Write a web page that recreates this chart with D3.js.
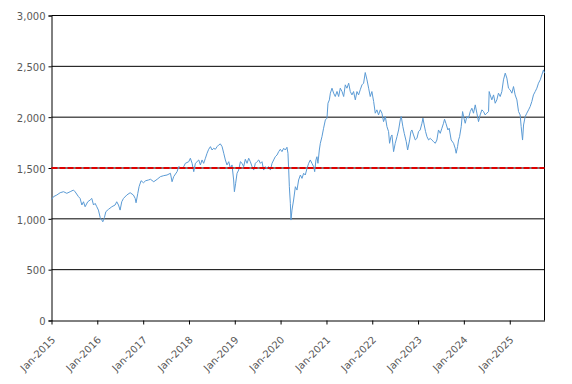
<!DOCTYPE html>
<html>
<head>
<meta charset="utf-8">
<script src="https://cdn.jsdelivr.net/npm/d3@7"></script>
<style>
  html, body { margin: 0; padding: 0; background: #fff; }
  svg { display: block; }
  text { font-family: "DejaVu Sans", Verdana, sans-serif; }
</style>
</head>
<body>
<svg id="chart" width="572" height="384"></svg>
<script>
// ---- data ----
const dates = [
"2015-01-02","2015-01-17","2015-02-12","2015-03-11","2015-04-07","2015-05-03","2015-05-30","2015-06-25","2015-07-09","2015-08-04",
"2015-08-17","2015-08-31","2015-09-13","2015-09-26","2015-10-17","2015-11-05","2015-11-18","2015-12-02","2015-12-15","2015-12-28",
"2016-01-10","2016-01-24","2016-02-06","2016-02-14","2016-02-27","2016-03-09","2016-03-30","2016-04-26","2016-05-22","2016-06-04",
"2016-06-18","2016-07-01","2016-07-14","2016-07-28","2016-08-23","2016-09-19","2016-10-15","2016-10-29","2016-11-05","2016-11-19",
"2016-11-29","2016-12-15","2017-01-03","2017-01-21","2017-02-12","2017-02-28","2017-03-26","2017-04-22","2017-05-18","2017-06-14",
"2017-07-10","2017-08-06","2017-08-19","2017-09-01","2017-09-28","2017-10-11","2017-11-07","2017-11-20","2017-12-03","2017-12-30",
"2018-01-12","2018-01-26","2018-02-08","2018-02-21","2018-03-06","2018-03-20","2018-04-02","2018-04-15","2018-04-28","2018-05-12",
"2018-05-25","2018-06-07","2018-06-21","2018-07-04","2018-07-17","2018-07-30","2018-08-13","2018-08-26","2018-09-08","2018-09-22",
"2018-10-05","2018-10-18","2018-10-31","2018-11-14","2018-11-27","2018-12-10","2018-12-23","2018-12-29","2019-01-08","2019-01-19",
"2019-02-01","2019-02-15","2019-02-28","2019-03-13","2019-03-26","2019-04-09","2019-04-22","2019-05-05","2019-05-19","2019-06-01",
"2019-06-14","2019-06-27","2019-07-11","2019-07-24","2019-08-06","2019-08-19","2019-09-02","2019-09-15","2019-09-28","2019-10-12",
"2019-10-25","2019-11-07","2019-11-20","2019-12-04","2019-12-17","2019-12-30","2020-01-12","2020-01-26","2020-02-08","2020-02-21",
"2020-02-29","2020-03-06","2020-03-11","2020-03-19","2020-03-24","2020-04-01","2020-04-14","2020-04-28","2020-05-11","2020-05-24",
"2020-06-07","2020-06-20","2020-07-03","2020-07-16","2020-07-30","2020-08-12","2020-08-25","2020-09-07","2020-09-21","2020-09-29",
"2020-10-09","2020-10-17","2020-10-25","2020-11-05","2020-11-13","2020-11-26","2020-12-09","2020-12-23","2021-01-05","2021-01-13",
"2021-01-24","2021-02-01","2021-02-14","2021-02-27","2021-03-12","2021-03-26","2021-04-08","2021-04-21","2021-05-05","2021-05-18",
"2021-05-31","2021-06-13","2021-06-27","2021-07-10","2021-07-23","2021-08-05","2021-08-19","2021-09-01","2021-09-14","2021-09-27",
"2021-10-11","2021-10-24","2021-11-06","2021-11-20","2021-12-03","2021-12-16","2021-12-29","2022-01-12","2022-01-25","2022-02-07",
"2022-02-20","2022-03-06","2022-03-19","2022-04-01","2022-04-15","2022-04-28","2022-05-11","2022-05-19","2022-05-30","2022-06-07",
"2022-06-20","2022-07-03","2022-07-17","2022-07-30","2022-08-12","2022-08-20","2022-09-02","2022-09-13","2022-09-29","2022-10-10",
"2022-10-26","2022-11-05","2022-11-13","2022-11-26","2022-12-10","2022-12-23","2023-01-05","2023-01-18","2023-02-01","2023-02-09",
"2023-02-19","2023-03-02","2023-03-13","2023-03-26","2023-04-08","2023-04-21","2023-05-05","2023-05-18","2023-05-31","2023-06-13",
"2023-06-27","2023-07-10","2023-07-23","2023-07-31","2023-08-11","2023-08-27","2023-09-06","2023-09-22","2023-10-11","2023-10-24",
"2023-11-01","2023-11-12","2023-11-20","2023-11-28","2023-12-11","2023-12-22","2024-01-02","2024-01-12","2024-01-25","2024-02-07",
"2024-02-21","2024-03-05","2024-03-18","2024-04-01","2024-04-14","2024-04-27","2024-05-10","2024-05-24","2024-06-06","2024-06-19",
"2024-07-02","2024-07-16","2024-07-21","2024-07-29","2024-08-11","2024-08-25","2024-09-07","2024-09-20","2024-10-03","2024-10-17",
"2024-10-30","2024-11-12","2024-11-26","2024-12-09","2024-12-22","2025-01-04","2025-01-18","2025-01-31","2025-02-13","2025-02-27",
"2025-03-12","2025-03-25","2025-04-02","2025-04-13","2025-04-21","2025-05-04","2025-05-17","2025-05-31","2025-06-13","2025-06-26",
"2025-07-09","2025-07-23","2025-08-05","2025-08-18","2025-09-01","2025-09-14","2025-09-27","2025-10-05"
];
const values = [
1192,1218,1234,1257,1267,1251,1267,1283,1265,1218,
1201,1136,1168,1119,1168,1185,1201,1136,1152,1119,
1086,1014,988,971,1014,1070,1093,1119,1136,1168,
1136,1086,1168,1201,1234,1257,1234,1201,1158,1251,
1316,1375,1355,1375,1382,1389,1365,1389,1415,1425,
1431,1448,1365,1415,1464,1513,1497,1513,1546,1562,
1596,1546,1464,1546,1562,1579,1530,1579,1546,1596,
1645,1684,1710,1677,1694,1684,1710,1727,1737,1710,
1645,1579,1530,1562,1497,1530,1382,1267,1350,1448,
1480,1562,1546,1513,1586,1546,1596,1562,1513,1480,
1546,1562,1579,1546,1562,1480,1513,1497,1513,1480,
1546,1579,1611,1628,1661,1684,1661,1694,1677,1704,
1645,1480,1316,1152,988,1086,1185,1316,1283,1382,
1431,1398,1448,1431,1497,1546,1579,1546,1513,1464,
1579,1611,1546,1677,1743,1808,1891,1973,1990,2137,
2170,2236,2285,2236,2203,2253,2203,2285,2252,2203,
2318,2285,2334,2252,2219,2252,2170,2252,2219,2269,
2318,2334,2439,2367,2285,2203,2252,2154,2039,2072,
2022,2072,2039,1956,2006,1907,1858,1743,1808,1825,
1661,1743,1808,1874,1973,2006,1907,1841,1759,1677,
1776,1858,1874,1825,1776,1792,1858,1874,1940,1990,
1923,1858,1808,1776,1792,1775,1759,1743,1775,1874,
1841,1891,1940,1980,1940,1874,1891,1776,1743,1694,
1645,1710,1776,1808,1907,2055,1990,1940,2006,1990,
2055,2088,2039,2121,2039,1956,2022,2072,2055,2022,
2039,2055,2252,2219,2170,2219,2137,2170,2236,2203,
2252,2367,2433,2384,2285,2269,2236,2301,2219,2170,
2055,2022,1907,1775,1923,2006,2039,2072,2105,2154,
2219,2252,2285,2334,2367,2416,2465,2433
];
const yTicks = [0, 500, 1000, 1500, 2000, 2500, 3000];
const xTickDates = ["2015-01-01","2016-01-01","2017-01-01","2018-01-01","2019-01-01","2020-01-01",
                    "2021-01-01","2022-01-01","2023-01-01","2024-01-01","2025-01-01"];
const xTickLabels = ["Jan-2015","Jan-2016","Jan-2017","Jan-2018","Jan-2019","Jan-2020",
                     "Jan-2021","Jan-2022","Jan-2023","Jan-2024","Jan-2025"];
const referenceLevel = 1500;
const domainStart = "2015-01-01";

// ---- drawing ----
const parse = d3.utcParse("%Y-%m-%d");
const data = dates.map((d, i) => ({ date: parse(d), value: values[i] }));

const plotLeft = 51.5, plotRight = 544.5, plotTop = 15.5, plotBottom = 320.5;
const svg = d3.select("#chart");

const x = d3.scaleUtc()
  .domain([parse(domainStart), data[data.length - 1].date])
  .range([plotLeft, plotRight]);
const y = d3.scaleLinear().domain([0, 3000]).range([plotBottom, plotTop]);

const labelColor = "#595959";

// horizontal gridlines
svg.append("g")
  .selectAll("line")
  .data(yTicks.filter(v => v > 0))
  .join("line")
  .attr("x1", plotLeft).attr("x2", plotRight)
  .attr("y1", d => y(d)).attr("y2", d => y(d))
  .attr("stroke", "#000").attr("stroke-width", 1);

// right border
svg.append("line")
  .attr("x1", plotRight).attr("x2", plotRight)
  .attr("y1", plotTop).attr("y2", plotBottom)
  .attr("stroke", "#000").attr("stroke-width", 1);

// y axis
const yAxis = svg.append("g")
  .attr("transform", `translate(${plotLeft},0)`)
  .call(d3.axisLeft(y).tickValues(yTicks).tickSize(3).tickPadding(3).tickFormat(d3.format(",")));
yAxis.select(".domain").attr("stroke", "#000");
yAxis.selectAll(".tick line").attr("stroke", "#000");
yAxis.selectAll(".tick text")
  .attr("fill", labelColor)
  .style("font-size", "10px")
  .attr("dy", "0.42em");

// x axis
const xAxis = svg.append("g")
  .attr("transform", `translate(0,${plotBottom})`)
  .call(d3.axisBottom(x)
    .tickValues(xTickDates.map(parse))
    .tickSize(4)
    .tickSizeOuter(0)
    .tickFormat((d, i) => xTickLabels[i]));
xAxis.select(".domain").attr("stroke", "#000");
xAxis.selectAll(".tick line").attr("stroke", "#000");
xAxis.selectAll(".tick text")
  .attr("fill", labelColor)
  .style("font-size", "10px")
  .attr("text-anchor", "end")
  .attr("x", 0).attr("y", 0).attr("dy", 0)
  .attr("transform", "translate(4,20) rotate(-45)");

// series line
const line = d3.line()
  .x(d => x(d.date))
  .y(d => y(d.value));
svg.append("path")
  .datum(data)
  .attr("fill", "none")
  .attr("stroke", "#5B9BD5")
  .attr("stroke-width", 1)
  .attr("stroke-linejoin", "round")
  .attr("d", line);

// reference level line
svg.append("line")
  .attr("x1", plotLeft).attr("x2", plotRight)
  .attr("y1", y(referenceLevel)).attr("y2", y(referenceLevel))
  .attr("stroke", "#E00000")
  .attr("stroke-width", 2)
  .attr("stroke-dasharray", "6,2");
</script>
</body>
</html>
